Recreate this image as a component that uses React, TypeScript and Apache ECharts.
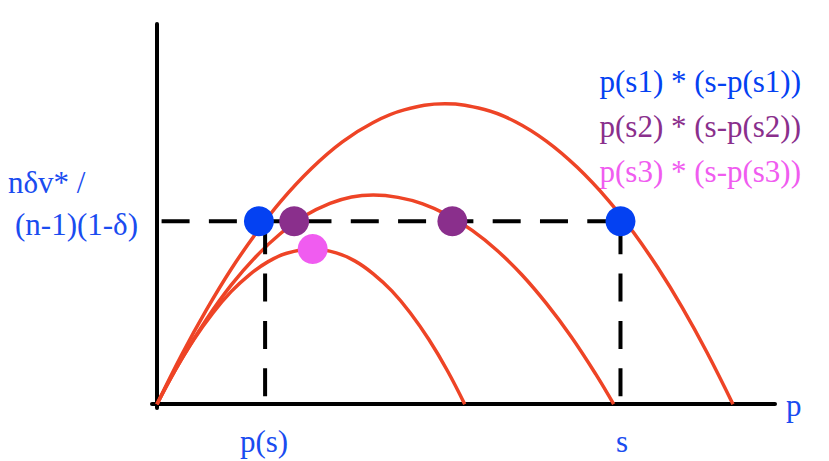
import React, { useEffect, useRef } from "react";
import * as echarts from "echarts";

// Curve 1: p(s1) * (s - p(s1))
const curve1X = [0, 4, 8, 12, 16, 20, 25, 30, 35, 40, 46.6, 53, 58, 63, 68, 73, 77, 81, 85, 89, 93.2];
const curve1Y = [0, 13.0, 24.8, 35.5, 44.9, 53.3, 62.0, 69.0, 74.1, 77.4, 79.0, 77.5, 74.3, 69.2, 62.3, 53.7, 45.4, 36.0, 25.4, 13.6, 0];
// Curve 2: p(s2) * (s - p(s2))
const curve2X = [0, 4, 8, 12, 16, 20, 24, 28, 31.5, 35, 39, 43, 47, 51, 55, 59, 63, 67, 71, 73.9];
const curve2Y = [0, 11.9, 22.3, 31.3, 38.8, 44.9, 49.6, 52.8, 54.5, 55.0, 54.4, 52.7, 49.8, 45.7, 40.5, 34.1, 26.5, 17.8, 7.9, 0];
// Curve 3: p(s3) * (s - p(s3))
const curve3X = [0, 3, 6, 9, 12, 15, 18, 21, 25.2, 29, 32, 35, 38, 41, 44, 47, 49.8];
const curve3Y = [0, 9.1, 17.1, 23.9, 29.6, 34.1, 37.5, 39.7, 40.8, 39.8, 37.7, 34.3, 29.8, 24.0, 17.0, 8.8, 0];

// threshold level nδv*/((n-1)(1-δ)) and key positions
const levelY = 48.1;
const levelStartX = 0.75;
const psX = 17.5; // p(s)
const sX = 75.0; // s
const dashBottomY = 2.1;

// dots
const blueDotsX = [16.5, 75.0];
const purpleDotsX = [22.2, 47.8];
const pinkDot = [25.2, 40.8];

const legendLabels = ["p(s1) * (s-p(s1))", "p(s2) * (s-p(s2))", "p(s3) * (s-p(s3))"];
const levelLabel = ["nδv* /", "(n-1)(1-δ)"];
const xLabels = ["p(s)", "s", "p"];

const RED = "#ee4426";
const BLUE = "#0441f2";
const PURPLE = "#8a2f8c";
const PINK = "#f05cf0";
const TEXT_BLUE = "#1a4cf0";
const FONT = "'Liberation Serif', serif";

const zip = (xs: number[], ys: number[]) => xs.map((x, i) => [x, ys[i]]);

export default function App() {
  const ref = useRef<HTMLDivElement>(null);
  useEffect(() => {
    if (!ref.current) return;
    const chart = echarts.init(ref.current, null, { renderer: "svg" });
    const curveStyle = { color: RED, width: 3.5 };
    const dashStyle = { color: "#000", width: 4, type: [28, 19.3] as any, cap: "butt" as any };
    chart.setOption({
      animation: false,
      backgroundColor: "#fff",
      grid: { left: 152, right: 54, top: 24, bottom: 53 },
      xAxis: {
        type: "value",
        min: -0.8,
        max: 100,
        axisLine: { show: true, onZero: true, lineStyle: { color: "#000", width: 4 } },
        axisTick: { show: false },
        axisLabel: { show: false },
        splitLine: { show: false },
      },
      yAxis: {
        type: "value",
        min: -1,
        max: 100,
        axisLine: { show: true, onZero: true, lineStyle: { color: "#000", width: 4 } },
        axisTick: { show: false },
        axisLabel: { show: false },
        splitLine: { show: false },
      },
      series: [
        { type: "line", data: zip(curve1X, curve1Y), smooth: 0.4, showSymbol: false, lineStyle: curveStyle, z: 2 },
        { type: "line", data: zip(curve2X, curve2Y), smooth: 0.4, showSymbol: false, lineStyle: curveStyle, z: 2 },
        { type: "line", data: zip(curve3X, curve3Y), smooth: 0.4, showSymbol: false, lineStyle: curveStyle, z: 2 },
        { type: "line", data: [[levelStartX, levelY], [sX, levelY]], showSymbol: false, lineStyle: dashStyle, z: 3 },
        { type: "line", data: [[psX, dashBottomY], [psX, levelY]], showSymbol: false, lineStyle: dashStyle, z: 3 },
        { type: "line", data: [[sX, dashBottomY], [sX, levelY]], showSymbol: false, lineStyle: dashStyle, z: 3 },
        { type: "scatter", data: blueDotsX.map((x) => [x, levelY]), symbolSize: 30, itemStyle: { color: BLUE, opacity: 1 }, z: 5 },
        { type: "scatter", data: purpleDotsX.map((x) => [x, levelY]), symbolSize: 30, itemStyle: { color: PURPLE, opacity: 1 }, z: 5 },
        { type: "scatter", data: [pinkDot], symbolSize: 30, itemStyle: { color: PINK, opacity: 1 }, z: 5 },
      ],
      graphic: [
        { type: "text", right: 28, top: 66, style: { text: legendLabels[0], fill: BLUE, font: `31px ${FONT}` } },
        { type: "text", right: 28, top: 111, style: { text: legendLabels[1], fill: PURPLE, font: `31px ${FONT}` } },
        { type: "text", right: 28, top: 156, style: { text: legendLabels[2], fill: PINK, font: `31px ${FONT}` } },
        { type: "text", left: 8, top: 167, style: { text: levelLabel[0], fill: TEXT_BLUE, font: `31px ${FONT}` } },
        { type: "text", left: 15, top: 209, style: { text: levelLabel[1], fill: TEXT_BLUE, font: `31px ${FONT}` } },
        { type: "text", x: 264, y: 441, style: { text: xLabels[0], fill: TEXT_BLUE, font: `31px ${FONT}`, align: "center", verticalAlign: "middle" } },
        { type: "text", x: 622, y: 441, style: { text: xLabels[1], fill: TEXT_BLUE, font: `31px ${FONT}`, align: "center", verticalAlign: "middle" } },
        { type: "text", x: 786, y: 405, style: { text: xLabels[2], fill: TEXT_BLUE, font: `31px ${FONT}`, align: "left", verticalAlign: "middle" } },
      ],
    });
    return () => chart.dispose();
  }, []);
  return (
    <div
      ref={ref}
      style={{ position: "fixed", left: 0, top: 0, width: 829, height: 461 }}
    />
  );
}
